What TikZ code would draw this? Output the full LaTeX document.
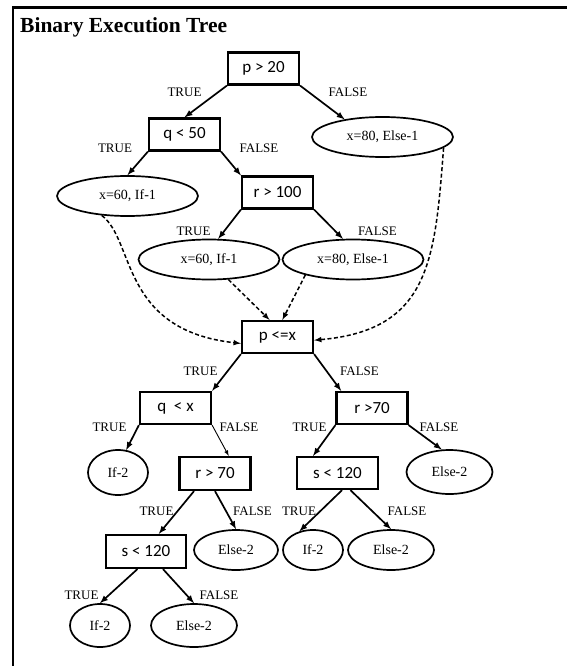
\documentclass[tikz,border=0pt]{standalone}
\usepackage{fontspec}
\setmainfont{Liberation Serif}
\newfontfamily\boxfont{Carlito}
\usetikzlibrary{shapes.geometric,calc,arrows}

\begin{document}
\begin{tikzpicture}[x=1pt,y=-1pt,
		cond/.style={draw,rectangle,line width=2.2pt,minimum width=71pt,minimum height=32pt,inner sep=0pt,font=\boxfont\fontsize{17}{17}\selectfont},
		leaf/.style={draw,ellipse,line width=1.7pt,inner sep=0pt,font=\fontsize{14}{14}\selectfont},
		wideleaf/.style={leaf,minimum width=141pt,minimum height=40pt},
		ifleaf/.style={leaf,minimum width=60pt,minimum height=43pt},
		elseleaf/.style={leaf,minimum width=86pt,minimum height=42pt},
		branch/.style={-latex,line width=1.7pt},
		jump/.style={-latex,line width=1.5pt,dash pattern=on 4pt off 2.5pt},
		tag/.style={inner sep=0pt,font=\fontsize{13}{13}\selectfont}]
	\useasboundingbox (0,0) rectangle (567,666);
	
	% frame and title
	\draw[line width=2.5pt] (12,7.5) -- (567,7.5);
	\draw[line width=2pt] (13,6.25) -- (13,666);
	\node[anchor=west,inner sep=0pt,font=\bfseries\fontsize{21.5}{21.5}\selectfont] (title) at (20,27) {Binary Execution Tree};
	
	% first decision
	\node[cond] (pgt) at (263.5,68.5) {p > 20};
	\node[cond] (qlt) at (184.5,134.5) {q < 50};
	\node[wideleaf] (elsa) at (382.5,137) {x=80, Else-1};
	\node[wideleaf] (ifa) at (127.5,196) {x=60, If-1};
	\node[cond] (rgt) at (277.5,192.5) {r > 100};
	\node[wideleaf] (ifb) at (209,259.5) {x=60, If-1};
	\node[wideleaf] (elsb) at (353,259.5) {x=80, Else-1};
	
	% second decision
	\node[cond] (pleq) at (277.5,337) {p <=x};
	\node[cond] (qltx) at (175.5,408) {q\ \ < x};
	\node[cond] (rgtb) at (372,408) {r >70};
	\node[ifleaf,minimum height=45pt] (ifq) at (118,472.5) {If-2};
	\node[cond,minimum height=33pt] (rgta) at (215,473.5) {r > 70};
	\node[cond,minimum width=81pt] (sltb) at (337.5,473) {s < 120};
	\node[elseleaf,minimum height=44pt] (elsr) at (449.5,472) {Else-2};
	\node[cond,minimum width=80pt,minimum height=33pt] (slta) at (146,551.5) {s < 120};
	\node[elseleaf,minimum width=84pt,minimum height=40pt] (elsm) at (236,550) {Else-2};
	\node[ifleaf,minimum height=40pt] (ifs) at (313,550) {If-2};
	\node[elseleaf,minimum height=40pt] (elss) at (391,550) {Else-2};
	\node[ifleaf] (ifl) at (100,625.5) {If-2};
	\node[elseleaf,minimum height=43pt] (elsl) at (194,625.5) {Else-2};
	
	% branches
	\draw[branch] (pgt.south west) -- (qlt.north);
	\draw[branch] (pgt.south east) -- (elsa.155);
	\draw[branch] (qlt.south west) -- (ifa.north);
	\draw[branch] (qlt.south east) -- (rgt.north west);
	\draw[branch] (rgt.south west) -- (ifb.66);
	\draw[branch] (rgt.south east) -- (elsb.116);
	\draw[branch] (pleq.south west) -- (qltx.north east);
	\draw[branch] (pleq.south east) -- (rgtb.151);
	\draw[branch] (qltx.south west) -- (ifq.70);
	\draw[branch,line width=0.9pt] (qltx.south east) -- (rgta.52);
	\draw[branch] (rgtb.south west) -- (sltb.145);
	\draw[branch] (rgtb.south east) -- (elsr.109);
	\draw[branch] (rgta.220) -- (slta.54);
	\draw[branch] (rgta.south) -- (elsm.north);
	\draw[branch] (sltb.-75) -- (ifs.126);
	\draw[branch] (sltb.-53) -- (elss.north);
	\draw[branch] (slta.-116) -- (ifl.north);
	\draw[branch] (slta.-46) -- (elsl.north);
	
	% merging into p <= x
	\draw[jump] (ifb.-46) -- (pleq.115);
	\draw[jump] (elsb.198) -- (pleq.74);
	\draw[jump] (ifa.217) .. controls (135,240) and (120,330) .. (pleq.190);
	\draw[jump] (elsa.-10) .. controls (435,260) and (430,330) .. (pleq.-5);
	
	% branch labels
	\node[tag] (t1) at (184.5,92) {TRUE};
	\node[tag] (f1) at (348,92) {FALSE};
	\node[tag] (t2) at (115,148) {TRUE};
	\node[tag] (f2) at (259,148) {FALSE};
	\node[tag] (t3) at (193.5,231) {TRUE};
	\node[tag] (f3) at (377.5,231) {FALSE};
	\node[tag] (t4) at (200.5,371) {TRUE};
	\node[tag] (f4) at (359.5,371) {FALSE};
	\node[tag] (t5) at (109.5,427.5) {TRUE};
	\node[tag] (f5) at (239,427.5) {FALSE};
	\node[tag] (t6) at (309.5,427.5) {TRUE};
	\node[tag] (f6) at (439,427.5) {FALSE};
	\node[tag] (t7) at (156.5,511.5) {TRUE};
	\node[tag] (f7) at (252.5,511.5) {FALSE};
	\node[tag] (t8) at (299,511.5) {TRUE};
	\node[tag] (f8) at (407,511.5) {FALSE};
	\node[tag] (t9) at (81.5,595.5) {TRUE};
	\node[tag] (f9) at (219,595.5) {FALSE};
\end{tikzpicture}
\end{document}
